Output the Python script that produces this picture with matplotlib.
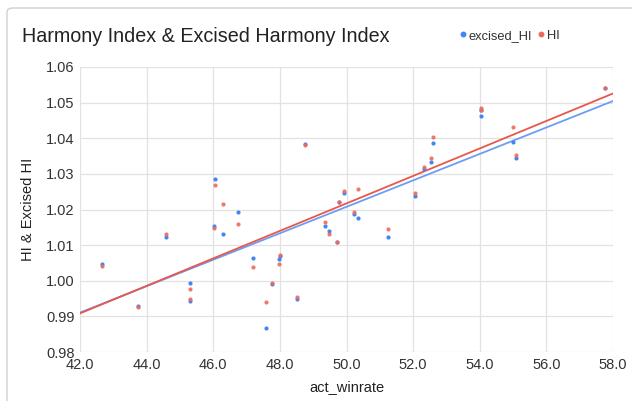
import numpy as np
import matplotlib
matplotlib.use("Agg")
import matplotlib.pyplot as plt
from matplotlib.patches import FancyBboxPatch
from matplotlib.lines import Line2D

plt.rcParams['font.family'] = ['Liberation Sans', 'DejaVu Sans']

act_winrate = [42.67, 43.74, 44.58, 45.31, 45.31, 46.01, 46.06, 46.28, 46.73, 47.19,
               47.59, 47.77, 47.96, 48.01, 48.51, 48.76, 49.36, 49.46, 49.71, 49.78,
               49.91, 50.23, 50.35, 51.24, 52.05, 52.32, 52.54, 52.61, 54.03, 54.05,
               55.01, 55.10, 57.77]
excised_HI = [1.0048, 0.9930, 1.0124, 0.9994, 0.9942, 1.0154, 1.0286, 1.0130, 1.0193, 1.0065,
              0.9867, 0.9990, 1.0061, 1.0070, 0.9948, 1.0385, 1.0154, 1.0139, 1.0108, 1.0221,
              1.0247, 1.0187, 1.0177, 1.0124, 1.0238, 1.0315, 1.0332, 1.0388, 1.0478, 1.0462,
              1.0390, 1.0344, 1.0540]
HI = [1.0042, 0.9925, 1.0131, 0.9977, 0.9949, 1.0147, 1.0268, 1.0215, 1.0159, 1.0038,
      0.9939, 0.9993, 1.0047, 1.0073, 0.9954, 1.0380, 1.0164, 1.0132, 1.0108, 1.0221,
      1.0253, 1.0194, 1.0257, 1.0145, 1.0247, 1.0320, 1.0344, 1.0404, 1.0485, 1.0478,
      1.0432, 1.0354, 1.0540]

title = "Harmony Index & Excised Harmony Index"
x_ticks = [42.0, 44.0, 46.0, 48.0, 50.0, 52.0, 54.0, 56.0, 58.0]
y_ticks = [0.98, 0.99, 1.00, 1.01, 1.02, 1.03, 1.04, 1.05, 1.06]

BLUE = '#4285F4'
RED = '#EA6B5C'

W, H = 632, 401
fig = plt.figure(figsize=(W / 100, H / 100), dpi=100)
ax = fig.add_axes([80 / W, 1 - 352 / H, (613 - 80) / W, (352 - 67) / H])

x = np.array(act_winrate)
ex = np.array(excised_HI)
hi = np.array(HI)

ax.scatter(x, ex, s=9, color=BLUE, zorder=3, linewidths=0, label='excised_HI')
ax.scatter(x, hi, s=9, color=RED, zorder=3, linewidths=0, alpha=0.9, label='HI')

xl = np.array([42.0, 58.0])
pb = np.polyfit(x, ex, 1)
pr = np.polyfit(x, hi, 1)
ax.plot(xl, np.polyval(pb, xl), color='#6A9EF5', lw=1.3, zorder=2)
ax.plot(xl, np.polyval(pr, xl), color='#E8574A', lw=1.3, zorder=2)

ax.set_xlim(42, 58)
ax.set_ylim(0.98, 1.06)
ax.set_xticks(x_ticks)
ax.set_xticklabels([f"{v:.1f}" for v in x_ticks])
ax.set_yticks(y_ticks)
ax.set_yticklabels([f"{v:.2f}" for v in y_ticks])
ax.grid(True, color='#e2e2e2', lw=0.9, zorder=0)
for s in ax.spines.values():
    s.set_visible(False)
ax.tick_params(length=0, labelsize=10.5, labelcolor='#333333', pad=4)
ax.set_xlabel('act_winrate', fontsize=10.5, color='#222222', labelpad=6)
ax.set_ylabel('HI & Excised HI', fontsize=10.5, color='#222222', labelpad=8)

fig.text(22 / W, 1 - 36 / H, title, fontsize=14.2, color='#222222', va='center', ha='left')

handles = [Line2D([], [], marker='o', ls='', color=BLUE, markersize=3.2, label='excised_HI'),
           Line2D([], [], marker='o', ls='', color=RED, markersize=3.2, label='HI')]
fig.legend(handles=handles, loc='center left', bbox_to_anchor=(446 / W, 1 - 36 / H),
           ncol=2, frameon=False, fontsize=9.3, handletextpad=0.05, columnspacing=0.3,
           handlelength=0.8, labelcolor='#333333')

border = FancyBboxPatch((7 / W, -0.05), 1.2, 1 - 8 / H + 0.05,
                        boxstyle='round,pad=0,rounding_size=0.01',
                        transform=fig.transFigure, fill=False, ec='#d0d0d0', lw=1.0)
fig.patches.append(border)

fig.savefig('out.png', dpi=100)
